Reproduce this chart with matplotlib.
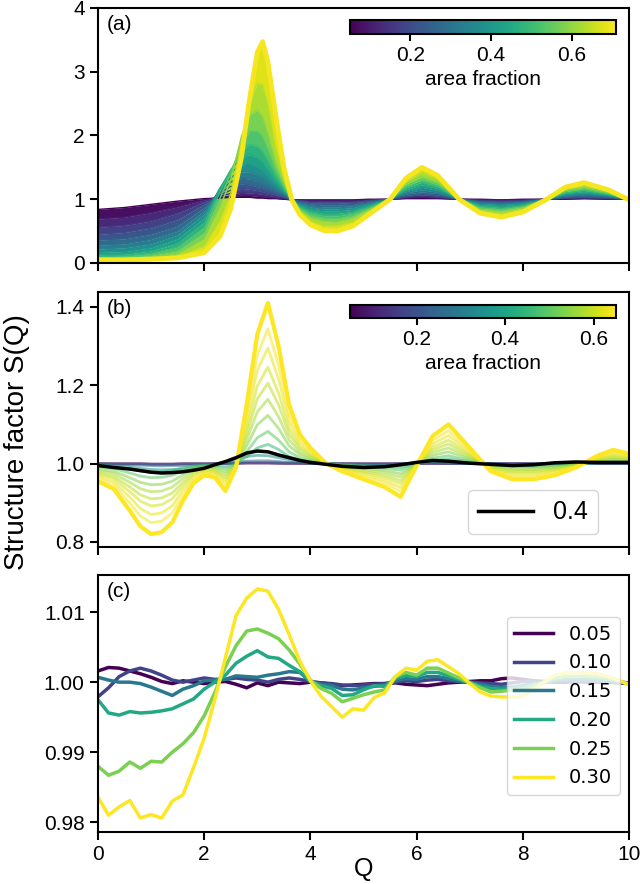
import matplotlib.pyplot as plt
from matplotlib import colors
from matplotlib.cm import ScalarMappable
from matplotlib.ticker import FormatStrFormatter

plt.rcParams['font.family'] = ['Liberation Sans', 'DejaVu Sans']
plt.rcParams['font.size'] = 15

# ---------------- panel (a): S(Q) for hard disks ----------------
q_a = [0, 0.5, 1.0, 1.5, 2.0, 2.3, 2.5, 2.7, 2.85, 3.0, 3.1, 3.2, 3.35, 3.5, 3.65,
       3.8, 4.0, 4.25, 4.5, 4.8, 5.1, 5.5, 5.8, 6.1, 6.4, 6.8, 7.2, 7.6, 8.0, 8.45,
       8.8, 9.15, 9.6, 10.0]
phi_a = [0.05, 0.10, 0.15, 0.20, 0.25, 0.30, 0.35, 0.40, 0.45, 0.50, 0.55, 0.60, 0.65, 0.70]
sq_a = [
    [0.84, 0.87, 0.92, 0.97, 1.01, 1.02, 1.03, 1.03, 1.03, 1.02, 1.02, 1.01, 1.01, 1.00, 0.99,
     0.99, 0.99, 0.99, 0.99, 0.99, 1.00, 1.00, 1.01, 1.01, 1.01, 1.00, 1.00, 0.99, 1.00, 1.00,
     1.00, 1.01, 1.00, 1.00],
    [0.69, 0.72, 0.79, 0.88, 0.99, 1.03, 1.05, 1.06, 1.06, 1.05, 1.04, 1.03, 1.02, 1.01, 0.99,
     0.99, 0.98, 0.98, 0.98, 0.98, 0.99, 1.00, 1.02, 1.03, 1.02, 1.00, 0.99, 0.99, 0.99, 1.00,
     1.01, 1.01, 1.01, 1.00],
    [0.56, 0.59, 0.66, 0.78, 0.96, 1.05, 1.09, 1.11, 1.10, 1.09, 1.08, 1.06, 1.04, 1.02, 0.99,
     0.98, 0.96, 0.96, 0.96, 0.96, 0.98, 1.00, 1.03, 1.05, 1.03, 1.00, 0.98, 0.97, 0.98, 1.00,
     1.02, 1.02, 1.01, 1.00],
    [0.45, 0.48, 0.55, 0.68, 0.92, 1.07, 1.14, 1.17, 1.16, 1.14, 1.12, 1.10, 1.07, 1.03, 0.99,
     0.97, 0.95, 0.94, 0.94, 0.95, 0.97, 1.00, 1.04, 1.07, 1.05, 1.00, 0.97, 0.96, 0.97, 1.00,
     1.02, 1.03, 1.02, 1.00],
    [0.36, 0.38, 0.45, 0.58, 0.87, 1.10, 1.20, 1.24, 1.23, 1.20, 1.18, 1.15, 1.10, 1.05, 0.99,
     0.96, 0.93, 0.91, 0.91, 0.92, 0.96, 1.00, 1.06, 1.09, 1.07, 1.00, 0.96, 0.95, 0.96, 1.00,
     1.03, 1.05, 1.03, 1.00],
    [0.28, 0.30, 0.37, 0.50, 0.82, 1.13, 1.27, 1.33, 1.32, 1.28, 1.25, 1.21, 1.14, 1.07, 0.99,
     0.94, 0.90, 0.88, 0.88, 0.90, 0.94, 1.00, 1.08, 1.12, 1.09, 1.00, 0.95, 0.93, 0.95, 1.00,
     1.05, 1.06, 1.04, 1.00],
    [0.22, 0.24, 0.30, 0.44, 0.77, 1.16, 1.34, 1.43, 1.43, 1.38, 1.34, 1.28, 1.18, 1.09, 0.99,
     0.93, 0.88, 0.85, 0.85, 0.87, 0.93, 1.00, 1.10, 1.15, 1.11, 1.00, 0.93, 0.92, 0.94, 1.00,
     1.06, 1.08, 1.05, 1.00],
    [0.17, 0.18, 0.24, 0.38, 0.71, 1.18, 1.42, 1.54, 1.55, 1.50, 1.44, 1.36, 1.23, 1.11, 0.99,
     0.91, 0.85, 0.82, 0.82, 0.84, 0.91, 1.00, 1.12, 1.19, 1.14, 1.00, 0.92, 0.90, 0.93, 1.00,
     1.07, 1.10, 1.06, 1.00],
    [0.13, 0.14, 0.19, 0.31, 0.64, 1.17, 1.46, 1.66, 1.70, 1.65, 1.58, 1.47, 1.29, 1.14, 0.99,
     0.89, 0.82, 0.78, 0.78, 0.81, 0.89, 1.00, 1.15, 1.23, 1.17, 1.00, 0.90, 0.87, 0.91, 1.00,
     1.09, 1.12, 1.07, 1.00],
    [0.10, 0.11, 0.15, 0.25, 0.56, 1.12, 1.45, 1.76, 1.86, 1.83, 1.75, 1.61, 1.37, 1.17, 0.99,
     0.87, 0.79, 0.74, 0.74, 0.78, 0.87, 1.00, 1.18, 1.27, 1.20, 1.00, 0.88, 0.85, 0.89, 1.00,
     1.10, 1.14, 1.08, 1.00],
    [0.08, 0.09, 0.12, 0.19, 0.47, 1.02, 1.40, 1.87, 2.06, 2.07, 1.98, 1.79, 1.46, 1.21, 0.99,
     0.85, 0.75, 0.70, 0.69, 0.74, 0.85, 1.00, 1.21, 1.31, 1.23, 1.00, 0.86, 0.83, 0.88, 1.00,
     1.12, 1.16, 1.09, 1.00],
    [0.07, 0.07, 0.09, 0.14, 0.37, 0.88, 1.30, 1.98, 2.32, 2.40, 2.30, 2.04, 1.58, 1.26, 0.99,
     0.83, 0.71, 0.65, 0.64, 0.70, 0.83, 1.00, 1.24, 1.36, 1.27, 1.00, 0.84, 0.80, 0.86, 1.00,
     1.14, 1.19, 1.11, 1.00],
    [0.06, 0.06, 0.07, 0.10, 0.26, 0.66, 1.08, 1.88, 2.50, 2.82, 2.80, 2.50, 1.80, 1.34, 0.99,
     0.80, 0.66, 0.58, 0.58, 0.64, 0.80, 1.00, 1.28, 1.43, 1.32, 1.00, 0.81, 0.76, 0.83, 1.00,
     1.16, 1.22, 1.13, 1.00],
    [0.05, 0.05, 0.06, 0.08, 0.16, 0.42, 0.85, 1.65, 2.55, 3.30, 3.47, 3.15, 2.30, 1.50, 0.99,
     0.76, 0.60, 0.51, 0.50, 0.58, 0.76, 1.00, 1.33, 1.50, 1.37, 1.00, 0.78, 0.72, 0.80, 1.00,
     1.19, 1.26, 1.15, 0.99],
]

# ---------------- panel (b) ----------------
q_b = [0, 0.3, 0.6, 0.8, 1.0, 1.2, 1.4, 1.6, 1.8, 2.0, 2.2, 2.4, 2.6, 2.8, 3.0, 3.2, 3.4,
       3.6, 3.8, 4.0, 4.3, 4.6, 5.0, 5.4, 5.7, 6.0, 6.3, 6.6, 7.0, 7.4, 7.8, 8.2, 8.6, 9.0,
       9.4, 9.7, 10.0]
phi_b = [0.05, 0.15, 0.25, 0.35, 0.40, 0.45, 0.50, 0.54, 0.57, 0.59, 0.61, 0.63, 0.64, 0.65]
sq_b = [
    [1.000, 1.000, 1.000, 1.000, 0.999, 0.999, 0.999, 1.000, 1.000, 1.000, 1.000, 1.000, 1.000,
     1.001, 1.001, 1.001, 1.000, 1.000, 1.000, 1.000, 1.000, 1.000, 1.000, 1.000, 1.000, 1.000,
     1.000, 1.000, 1.000, 1.000, 1.000, 1.000, 1.000, 1.000, 1.000, 1.000, 1.000],
    [1.000, 0.999, 0.999, 0.999, 0.998, 0.998, 0.998, 0.999, 0.999, 0.999, 1.000, 1.000, 1.001,
     1.002, 1.002, 1.002, 1.002, 1.001, 1.001, 1.000, 1.000, 1.000, 0.999, 0.999, 1.000, 1.000,
     1.001, 1.000, 1.000, 1.000, 1.000, 1.000, 1.000, 1.000, 1.000, 1.000, 1.000],
    [0.999, 0.998, 0.997, 0.996, 0.995, 0.994, 0.995, 0.995, 0.996, 0.997, 0.999, 1.001, 1.003,
     1.006, 1.007, 1.007, 1.005, 1.003, 1.002, 1.001, 1.000, 0.998, 0.998, 0.998, 0.999, 1.001,
     1.002, 1.001, 1.000, 1.000, 0.999, 0.999, 1.000, 1.001, 1.001, 1.001, 1.001],
    [0.997, 0.993, 0.991, 0.988, 0.985, 0.984, 0.985, 0.986, 0.989, 0.992, 0.998, 1.003, 1.010,
     1.018, 1.021, 1.020, 1.015, 1.010, 1.005, 1.002, 0.999, 0.995, 0.993, 0.995, 0.998, 1.002,
     1.005, 1.004, 1.001, 0.999, 0.997, 0.998, 1.001, 1.003, 1.002, 1.002, 1.002],
    [0.995, 0.990, 0.986, 0.982, 0.978, 0.976, 0.977, 0.979, 0.983, 0.988, 0.997, 1.005, 1.015,
     1.027, 1.032, 1.030, 1.022, 1.015, 1.008, 1.003, 0.998, 0.993, 0.990, 0.992, 0.997, 1.003,
     1.008, 1.006, 1.001, 0.998, 0.995, 0.997, 1.002, 1.004, 1.003, 1.003, 1.003],
    [0.995, 0.992, 0.986, 0.981, 0.978, 0.979, 0.982, 0.989, 0.994, 0.996, 0.996, 0.992, 0.999,
     1.018, 1.040, 1.049, 1.036, 1.018, 1.009, 1.005, 1.000, 0.998, 0.995, 0.993, 0.990, 0.999,
     1.008, 1.012, 1.005, 0.998, 0.995, 0.995, 0.996, 0.999, 1.002, 1.004, 1.003],
    [0.991, 0.987, 0.976, 0.968, 0.964, 0.965, 0.970, 0.981, 0.990, 0.994, 0.993, 0.986, 0.998,
     1.030, 1.066, 1.082, 1.060, 1.030, 1.015, 1.008, 1.000, 0.996, 0.992, 0.988, 0.983, 0.999,
     1.014, 1.020, 1.008, 0.996, 0.992, 0.992, 0.994, 0.998, 1.004, 1.007, 1.005],
    [0.986, 0.980, 0.964, 0.952, 0.946, 0.947, 0.955, 0.971, 0.985, 0.991, 0.989, 0.979, 0.997,
     1.045, 1.099, 1.123, 1.090, 1.045, 1.023, 1.012, 1.000, 0.994, 0.988, 0.982, 0.974, 0.998,
     1.021, 1.030, 1.012, 0.994, 0.988, 0.988, 0.991, 0.997, 1.006, 1.011, 1.008],
    [0.982, 0.974, 0.952, 0.936, 0.928, 0.930, 0.940, 0.962, 0.980, 0.988, 0.986, 0.972, 0.996,
     1.060, 1.132, 1.164, 1.120, 1.060, 1.030, 1.016, 1.000, 0.992, 0.984, 0.976, 0.966, 0.998,
     1.028, 1.040, 1.016, 0.992, 0.984, 0.984, 0.988, 0.996, 1.008, 1.014, 1.010],
    [0.977, 0.967, 0.940, 0.920, 0.910, 0.912, 0.925, 0.952, 0.975, 0.985, 0.982, 0.965, 0.995,
     1.075, 1.165, 1.205, 1.150, 1.075, 1.038, 1.020, 1.000, 0.990, 0.980, 0.970, 0.957, 0.997,
     1.035, 1.050, 1.020, 0.990, 0.980, 0.980, 0.985, 0.995, 1.010, 1.018, 1.013],
    [0.973, 0.961, 0.928, 0.904, 0.892, 0.895, 0.910, 0.943, 0.970, 0.982, 0.979, 0.958, 0.994,
     1.090, 1.198, 1.246, 1.180, 1.090, 1.045, 1.024, 1.000, 0.988, 0.976, 0.964, 0.949, 0.997,
     1.042, 1.060, 1.024, 0.988, 0.976, 0.976, 0.982, 0.994, 1.012, 1.021, 1.015],
    [0.968, 0.953, 0.914, 0.885, 0.870, 0.874, 0.892, 0.932, 0.964, 0.978, 0.975, 0.950, 0.993,
     1.108, 1.238, 1.295, 1.216, 1.108, 1.054, 1.029, 1.000, 0.986, 0.971, 0.957, 0.939, 0.996,
     1.050, 1.072, 1.029, 0.986, 0.971, 0.971, 0.978, 0.993, 1.014, 1.025, 1.018],
    [0.962, 0.945, 0.899, 0.866, 0.849, 0.853, 0.874, 0.920, 0.958, 0.975, 0.971, 0.941, 0.992,
     1.126, 1.277, 1.344, 1.252, 1.126, 1.063, 1.034, 1.000, 0.983, 0.966, 0.950, 0.929, 0.996,
     1.059, 1.084, 1.034, 0.983, 0.966, 0.966, 0.975, 0.992, 1.017, 1.029, 1.021],
    [0.955, 0.935, 0.880, 0.840, 0.820, 0.825, 0.850, 0.905, 0.950, 0.970, 0.965, 0.930, 0.990,
     1.150, 1.330, 1.410, 1.300, 1.150, 1.075, 1.040, 1.000, 0.980, 0.960, 0.940, 0.915, 0.995,
     1.070, 1.100, 1.040, 0.980, 0.960, 0.960, 0.970, 0.990, 1.020, 1.035, 1.025],
]
black_phi = 0.40

# ---------------- panel (c) ----------------
q_c = [0.0, 0.2, 0.4, 0.6, 0.8, 1.0, 1.2, 1.4, 1.6, 1.8, 2.0, 2.2, 2.4, 2.6, 2.8, 3.0, 3.2,
       3.4, 3.6, 3.8, 4.0, 4.2, 4.4, 4.6, 4.8, 5.0, 5.2, 5.4, 5.6, 5.8, 6.0, 6.2, 6.4, 6.6,
       6.8, 7.0, 7.2, 7.4, 7.6, 7.8, 8.0, 8.2, 8.4, 8.6, 8.8, 9.0, 9.2, 9.4, 9.6, 9.8, 10.0]
labels_c = ['0.05', '0.10', '0.15', '0.20', '0.25', '0.30']
sq_c_005 = [1.0016, 1.0021, 1.0020, 1.0016, 1.0012, 1.0007, 1.0001, 0.9998, 1.0002, 1.0000,
            0.9998, 1.0000, 1.0001, 0.9997, 0.9992, 0.9999, 0.9995, 1.0000, 0.9999, 0.9998,
            1.0000, 0.9999, 0.9997, 0.9995, 0.9996, 0.9997, 0.9998, 0.9998, 0.9999, 0.9997,
            0.9996, 0.9995, 0.9997, 0.9999, 1.0000, 1.0001, 1.0002, 1.0002, 1.0005, 1.0006,
            1.0004, 1.0002, 1.0001, 1.0000, 1.0000, 1.0001, 1.0000, 1.0000, 1.0000, 0.9999,
            0.9998]
sq_c_010 = [0.9979, 0.9992, 1.0008, 1.0016, 1.0020, 1.0016, 1.0010, 1.0003, 1.0000, 1.0003,
            1.0006, 1.0004, 1.0004, 1.0006, 1.0004, 1.0003, 1.0000, 1.0004, 1.0006, 1.0004,
            1.0001, 0.9999, 0.9998, 0.9996, 0.9995, 0.9996, 0.9997, 0.9998, 1.0000, 1.0002,
            1.0001, 1.0003, 1.0004, 1.0002, 1.0001, 1.0000, 0.9999, 0.9998, 0.9997, 0.9999,
            1.0001, 1.0001, 1.0000, 1.0001, 1.0002, 1.0002, 1.0001, 1.0001, 1.0001, 1.0000,
            0.9999]
sq_c_015 = [1.0007, 1.0003, 1.0000, 1.0000, 0.9998, 0.9993, 0.9987, 0.9981, 0.9990, 0.9995,
            1.0002, 1.0003, 1.0004, 1.0009, 1.0008, 1.0007, 1.0010, 1.0012, 1.0015, 1.0014,
            1.0001, 0.9997, 0.9995, 0.9990, 0.9989, 0.9992, 0.9994, 0.9996, 1.0002, 1.0005,
            1.0004, 1.0008, 1.0008, 1.0005, 1.0002, 1.0000, 0.9997, 0.9994, 0.9993, 0.9993,
            0.9995, 0.9998, 1.0000, 1.0002, 1.0003, 1.0003, 1.0003, 1.0003, 1.0002, 1.0000,
            0.9998]
sq_c_020 = [0.9975, 0.9956, 0.9953, 0.9958, 0.9956, 0.9957, 0.9959, 0.9962, 0.9969, 0.9976,
            0.9990, 1.0000, 1.0010, 1.0027, 1.0037, 1.0045, 1.0036, 1.0034, 1.0024, 1.0015,
            1.0001, 0.9995, 0.9991, 0.9981, 0.9982, 0.9989, 0.9995, 0.9994, 1.0005, 1.0010,
            1.0008, 1.0014, 1.0014, 1.0009, 1.0004, 0.9999, 0.9994, 0.9991, 0.9990, 0.9991,
            0.9993, 0.9997, 1.0000, 1.0004, 1.0006, 1.0006, 1.0006, 1.0005, 1.0004, 1.0001,
            0.9998]
sq_c_025 = [0.9880, 0.9867, 0.9873, 0.9886, 0.9877, 0.9887, 0.9886, 0.9900, 0.9912, 0.9928,
            0.9952, 0.9985, 1.0022, 1.0052, 1.0073, 1.0076, 1.0070, 1.0062, 1.0046, 1.0026,
            1.0003, 0.9991, 0.9984, 0.9972, 0.9977, 0.9982, 0.9986, 0.9989, 1.0008, 1.0014,
            1.0010, 1.0020, 1.0020, 1.0013, 1.0006, 0.9999, 0.9992, 0.9986, 0.9987, 0.9989,
            0.9990, 0.9995, 1.0000, 1.0006, 1.0008, 1.0008, 1.0009, 1.0008, 1.0006, 1.0002,
            0.9997]
sq_c_030 = [0.9836, 0.9810, 0.9822, 0.9831, 0.9806, 0.9811, 0.9806, 0.9830, 0.9839, 0.9878,
            0.9920, 0.9975, 1.0035, 1.0095, 1.0120, 1.0133, 1.0130, 1.0104, 1.0068, 1.0030,
            1.0002, 0.9980, 0.9965, 0.9950, 0.9962, 0.9960, 0.9978, 0.9985, 1.0008, 1.0020,
            1.0017, 1.0030, 1.0032, 1.0022, 1.0012, 0.9998, 0.9986, 0.9980, 0.9979, 0.9979,
            0.9980, 0.9990, 1.0000, 1.0010, 1.0013, 1.0014, 1.0013, 1.0012, 1.0008, 1.0003,
            0.9996]

cmap = plt.get_cmap('viridis')

fig = plt.figure(figsize=(6.4, 8.84), dpi=100)
ax_a = fig.add_axes([0.153, 0.7025, 0.830, 0.2885])
ax_b = fig.add_axes([0.153, 0.3812, 0.830, 0.2885])
ax_c = fig.add_axes([0.153, 0.0588, 0.830, 0.2907])

for ax in (ax_a, ax_b, ax_c):
    for sp in ax.spines.values():
        sp.set_linewidth(1.5)
    ax.tick_params(direction='out', length=6, width=1.5, labelsize=15)
    ax.set_xlim(0, 10)
    ax.set_xticks([0, 2, 4, 6, 8, 10])
ax_a.tick_params(labelbottom=False)
ax_b.tick_params(labelbottom=False)

# (a)
norm_a = colors.Normalize(0.05, 0.71)
for k in range(len(phi_a) - 1):
    mid = (phi_a[k] + phi_a[k + 1]) / 2
    ax_a.fill_between(q_a, sq_a[k], sq_a[k + 1], color=cmap(norm_a(mid)), lw=0)
for k, phi in enumerate(phi_a):
    lw = 3.5 if k == len(phi_a) - 1 else 1.0
    ax_a.plot(q_a, sq_a[k], color=cmap(norm_a(phi)), lw=lw)
ax_a.set_ylim(0, 4)
ax_a.set_yticks([0, 1, 2, 3, 4])
ax_a.text(0.017, 0.935, '(a)', transform=ax_a.transAxes, fontsize=15, va='center')

cax_a = fig.add_axes([350 / 640, 1 - 34 / 884, 266 / 640, 14 / 884])
cb_a = fig.colorbar(ScalarMappable(norm=norm_a, cmap=cmap), cax=cax_a, orientation='horizontal')
cb_a.set_ticks([0.2, 0.4, 0.6])
cb_a.set_label('area fraction', fontsize=15)
cb_a.outline.set_linewidth(1.5)
cax_a.tick_params(length=5, width=1.5, labelsize=15)

# (b)
norm_b = colors.Normalize(0.05, 0.65)
for k, phi in enumerate(phi_b):
    if k == len(phi_b) - 1:
        ax_b.plot(q_b, sq_b[k], color=cmap(norm_b(phi)), lw=3.0)
    else:
        ax_b.plot(q_b, sq_b[k], color=cmap(norm_b(phi)), lw=2.0, alpha=0.55)
black = sq_b[phi_b.index(black_phi)]
line_black, = ax_b.plot(q_b, black, color='k', lw=2.5, label='0.4', zorder=5)
ax_b.set_ylim(0.787, 1.438)
ax_b.set_yticks([0.8, 1.0, 1.2, 1.4])
ax_b.yaxis.set_major_formatter(FormatStrFormatter('%.1f'))
ax_b.text(0.017, 0.935, '(b)', transform=ax_b.transAxes, fontsize=15, va='center')
ax_b.legend(handles=[line_black], loc='lower right', bbox_to_anchor=(0.942, 0.05),
            borderaxespad=0, fontsize=18, handlelength=2.2, edgecolor='0.8')

cax_b = fig.add_axes([350 / 640, 1 - 318 / 884, 266 / 640, 13 / 884])
cb_b = fig.colorbar(ScalarMappable(norm=norm_b, cmap=cmap), cax=cax_b, orientation='horizontal')
cb_b.set_ticks([0.2, 0.4, 0.6])
cb_b.set_label('area fraction', fontsize=15)
cb_b.outline.set_linewidth(1.5)
cax_b.tick_params(length=5, width=1.5, labelsize=15)

# (c)
series_c = [sq_c_005, sq_c_010, sq_c_015, sq_c_020, sq_c_025, sq_c_030]
for k, (lab, s) in enumerate(zip(labels_c, series_c)):
    ax_c.plot(q_c, s, color=cmap(k / (len(series_c) - 1)), lw=2.5, label=lab)
ax_c.set_ylim(0.9786, 1.0153)
ax_c.set_yticks([0.98, 0.99, 1.00, 1.01])
ax_c.yaxis.set_major_formatter(FormatStrFormatter('%.2f'))
ax_c.text(0.017, 0.935, '(c)', transform=ax_c.transAxes, fontsize=15, va='center')
ax_c.legend(loc='upper right', bbox_to_anchor=(0.983, 0.837), borderaxespad=0,
            prop={'family': 'DejaVu Sans', 'size': 14})
ax_c.set_xlabel('Q', fontsize=18, labelpad=-5)

fig.text(0.026, 0.5, 'Structure factor S(Q)', rotation=90, va='center', ha='center', fontsize=20)

fig.savefig('out.png', dpi=100)
